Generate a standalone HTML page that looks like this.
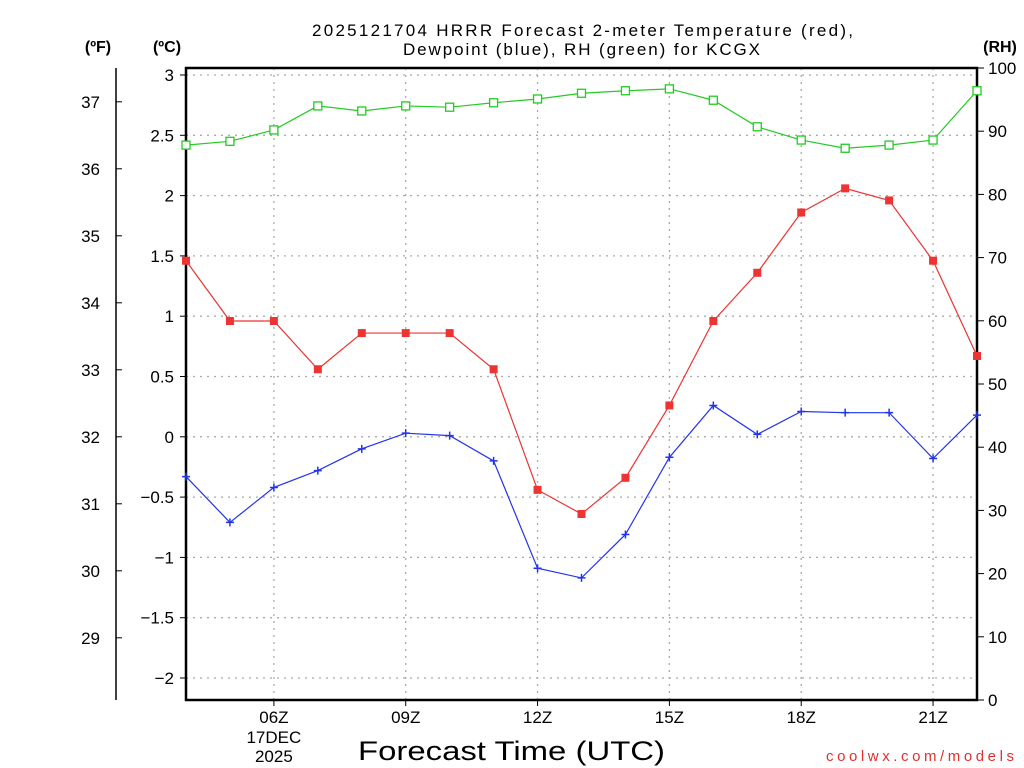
<!DOCTYPE html>
<html><head><meta charset="utf-8"><style>
html,body{margin:0;padding:0;background:#fff;width:1024px;height:768px;overflow:hidden}
svg{display:block;font-family:"Liberation Sans","DejaVu Sans",sans-serif}
</style></head><body>
<svg id="chart" width="1024" height="768" viewBox="0 0 1024 768">
<text x="312" y="36" font-size="17" textLength="541" lengthAdjust="spacing">2025121704 HRRR Forecast 2-meter Temperature (red),</text>
<text x="403" y="55" font-size="17" textLength="357" lengthAdjust="spacing">Dewpoint (blue), RH (green) for KCGX</text>
<text x="98" y="52" text-anchor="middle" font-size="16" font-weight="bold">(ºF)</text>
<text x="167" y="52" text-anchor="middle" font-size="16" font-weight="bold">(ºC)</text>
<text x="1000" y="52" text-anchor="middle" font-size="16" font-weight="bold">(RH)</text>
<text x="358" y="760" font-size="27" textLength="307" lengthAdjust="spacingAndGlyphs">Forecast Time (UTC)</text>
<text x="826" y="761" font-size="15" fill="#e03030" textLength="188" lengthAdjust="spacing">coolwx.com/models</text>
<g id="grid"></g><g id="axes"></g><g id="series"></g>
</svg>
<script>
const hours=[4,5,6,7,8,9,10,11,12,13,14,15,16,17,18,19,20,21,22];
const tempC=[1.46,0.96,0.96,0.56,0.86,0.86,0.86,0.56,-0.44,-0.64,-0.34,0.26,0.96,1.36,1.86,2.06,1.96,1.46,0.67];
const dewC=[-0.33,-0.71,-0.42,-0.28,-0.10,0.03,0.01,-0.20,-1.09,-1.17,-0.81,-0.17,0.26,0.02,0.21,0.20,0.20,-0.18,0.18];
const rh=[87.8,88.4,90.2,94.0,93.2,94.0,93.8,94.5,95.1,96.0,96.4,96.7,94.9,90.7,88.6,87.3,87.8,88.6,96.4];
const cTicks=[3,2.5,2,1.5,1,0.5,0,-0.5,-1,-1.5,-2];
const fTicks=[37,36,35,34,33,32,31,30,29];
const rhTicks=[0,10,20,30,40,50,60,70,80,90,100];
const xTicks=[6,9,12,15,18,21];
const xTickLabels=["06Z","09Z","12Z","15Z","18Z","21Z"];

const L=186,R=977,T=68,B=700;
const X=h=>L+(h-4)*(R-L)/18;
const YC=c=>75+(3-c)*120.6;
const YF=f=>YC((f-32)/1.8);
const YR=r=>B-r*(B-T)/100;
const NS="http://www.w3.org/2000/svg";
function mk(tag,attrs,parent,text){const e=document.createElementNS(NS,tag);for(const k in attrs)e.setAttribute(k,attrs[k]);if(text!==undefined)e.textContent=text;parent.appendChild(e);return e;}
const grid=document.getElementById('grid'),axes=document.getElementById('axes'),ser=document.getElementById('series');
const gs={stroke:"#aaa","stroke-width":1.3,"stroke-dasharray":"2,5"};
cTicks.forEach(c=>{const y=YC(c);
 const g=mk('line',Object.assign({x1:L,x2:R,y1:y,y2:y},gs),grid);
 
 
 mk('line',{x1:L-6,x2:L,y1:y,y2:y,stroke:"#000"},axes);
 const t=mk('text',{x:L-12,y:y+6,"text-anchor":"end","font-size":17},axes,(c<0?"\u2212"+Math.abs(c):String(c)));
 
 
});
xTicks.forEach((h,i)=>{const x=X(h);
 const g=mk('line',Object.assign({x1:x,x2:x,y1:T,y2:B},gs),grid);
 
 
 mk('line',{x1:x,x2:x,y1:B,y2:B+6,stroke:"#000"},axes);
 const t=mk('text',{x:x,y:B+23,"text-anchor":"middle","font-size":17},axes,xTickLabels[i]);
 
 
});
const d1=mk('text',{x:X(6),y:B+43,"text-anchor":"middle","font-size":17},axes,"17DEC");


const d2=mk('text',{x:X(6),y:B+62,"text-anchor":"middle","font-size":17},axes,"2025");


fTicks.forEach(f=>{const y=YF(f);
 mk('line',{x1:116,x2:122,y1:y,y2:y,stroke:"#000"},axes);
 const t=mk('text',{x:100,y:y+6,"text-anchor":"end","font-size":17},axes,String(f));
 
 
});
rhTicks.forEach(r=>{const y=YR(r);
 mk('line',{x1:R,x2:R+7,y1:y,y2:y,stroke:"#000"},axes);
 const t=mk('text',{x:R+11,y:y+6,"font-size":17},axes,String(r));
 
 
});
const fa=mk('line',{x1:116,x2:116,y1:T,y2:B,stroke:"#000","stroke-width":1.5},axes);


const fr=mk('rect',{x:L,y:T,width:R-L,height:B-T,fill:"none",stroke:"#000","stroke-width":2.5},axes);



function series(vals,yf,color,marker,name){
 const pts=vals.map((v,i)=>[X(hours[i]),yf(v)]);
 const pl=mk('polyline',{points:pts.map(p=>p.join(',')).join(' '),fill:"none",stroke:color,"stroke-width":1.2},ser);
 
 
 pts.forEach(([x,y])=>{let m;
  if(marker==='fill') m=mk('rect',{x:x-4,y:y-4,width:8,height:8,fill:color},ser);
  else if(marker==='open') m=mk('rect',{x:x-4,y:y-4,width:8,height:8,fill:"#fff",stroke:color,"stroke-width":1.3},ser);
  else m=mk('path',{d:`M${x-4},${y}H${x+4}M${x},${y-4}V${y+4}`,stroke:color,"stroke-width":1.5},ser);
  
  
 });
}
series(rh,YR,"#22cc22","open","rh");
series(tempC,YC,"#ee3333","fill","temperature");
series(dewC,YC,"#2233ee","plus","dewpoint");
</script>
</body></html>
